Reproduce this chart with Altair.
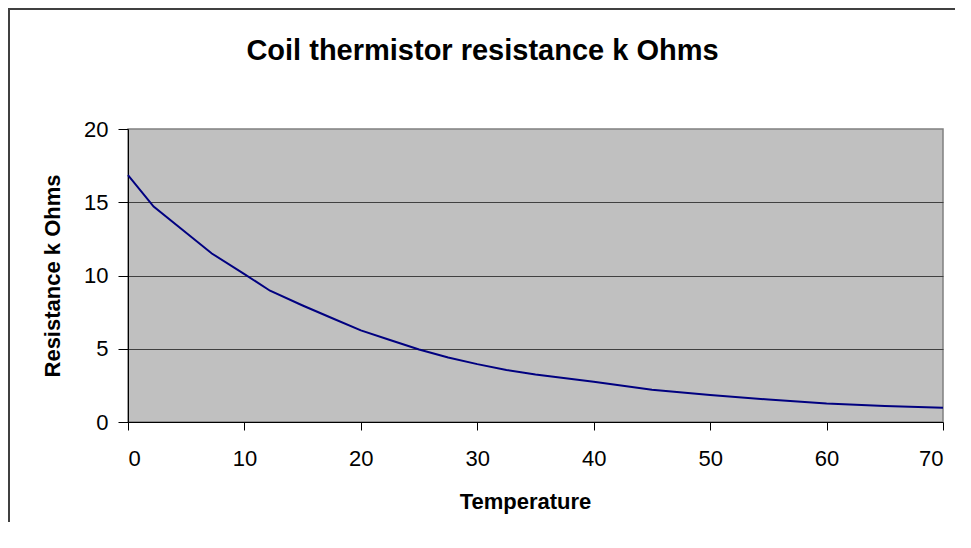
import altair as alt
import pandas as pd

temperature = [0, 2.2, 7.2, 10, 12.2, 15, 17.5, 20, 22.5, 25, 27.5, 30, 32.5, 35, 40, 45, 50, 55, 60, 65, 70]
resistance = [16.85, 14.7, 11.5, 10.1, 8.96, 7.95, 7.1, 6.25, 5.6, 4.95, 4.4, 3.95, 3.55, 3.25, 2.75, 2.2, 1.84, 1.53, 1.27, 1.1, 0.97]

x_ticks = [0, 10, 20, 30, 40, 50, 60, 70]
y_ticks = [0, 5, 10, 15, 20]
chart_title = ["Coil thermistor resistance k Ohms"]

df = pd.DataFrame({"Temperature": temperature, "Resistance": resistance})
title_df = pd.DataFrame({"title": chart_title})

W, H = 815, 293
FONT = "Liberation Sans"

line = alt.Chart(df).mark_line(color="#000080", strokeWidth=2, clip=False).encode(
    x=alt.X("Temperature:Q",
            scale=alt.Scale(domain=[0, 70], nice=False, zero=False),
            axis=alt.Axis(values=x_ticks, title="Temperature", grid=False,
                          domainColor="#000000", tickColor="#000000", tickSize=8,
                          labelFontSize=22, labelFont=FONT, labelColor="#000000",
                          labelPadding=18, titleFontSize=22, titleFont=FONT,
                          titleFontWeight="bold", titleColor="#000000", titlePadding=22,
                          titleX=397, titleAlign="center")),
    y=alt.Y("Resistance:Q",
            scale=alt.Scale(domain=[0, 20], nice=False),
            axis=alt.Axis(values=y_ticks, title="Resistance k Ohms", grid=True,
                          gridColor=alt.condition("datum.value == 20 || datum.value == 0",
                                                  alt.value("transparent"), alt.value("#404040")),
                          gridWidth=1,
                          domainColor="#000000", tickColor="#000000", tickSize=10,
                          labelFontSize=22, labelFont=FONT, labelColor="#000000",
                          labelPadding=10, titleFontSize=22, titleFont=FONT,
                          titleFontWeight="bold", titleColor="#000000", titlePadding=19)),
)

title_text = alt.Chart(title_df).mark_text(
    font=FONT, fontSize=29, fontWeight="bold", color="#000000",
    align="center", baseline="alphabetic").encode(
    text="title:N", x=alt.value(354.5), y=alt.value(-69))

frame_left = alt.Chart(title_df).mark_rule(color="#404040", strokeWidth=2).encode(
    x=alt.value(-119), y=alt.value(-125), y2=alt.value(H + 120))
frame_top = alt.Chart(title_df).mark_rule(color="#404040", strokeWidth=2).encode(
    x=alt.value(-119), x2=alt.value(W + 20), y=alt.value(-120))

chart = alt.layer(frame_left, frame_top, title_text, line).properties(
    width=W, height=H,
    autosize=alt.AutoSizeParams(type="none"),
    padding={"left": 120, "top": 121, "right": 12, "bottom": 100},
    background="#ffffff",
).configure_view(fill="#C0C0C0", stroke="#808080", strokeWidth=1.5)

chart.save("out.html", embed_options={"renderer": "svg", "actions": False})
